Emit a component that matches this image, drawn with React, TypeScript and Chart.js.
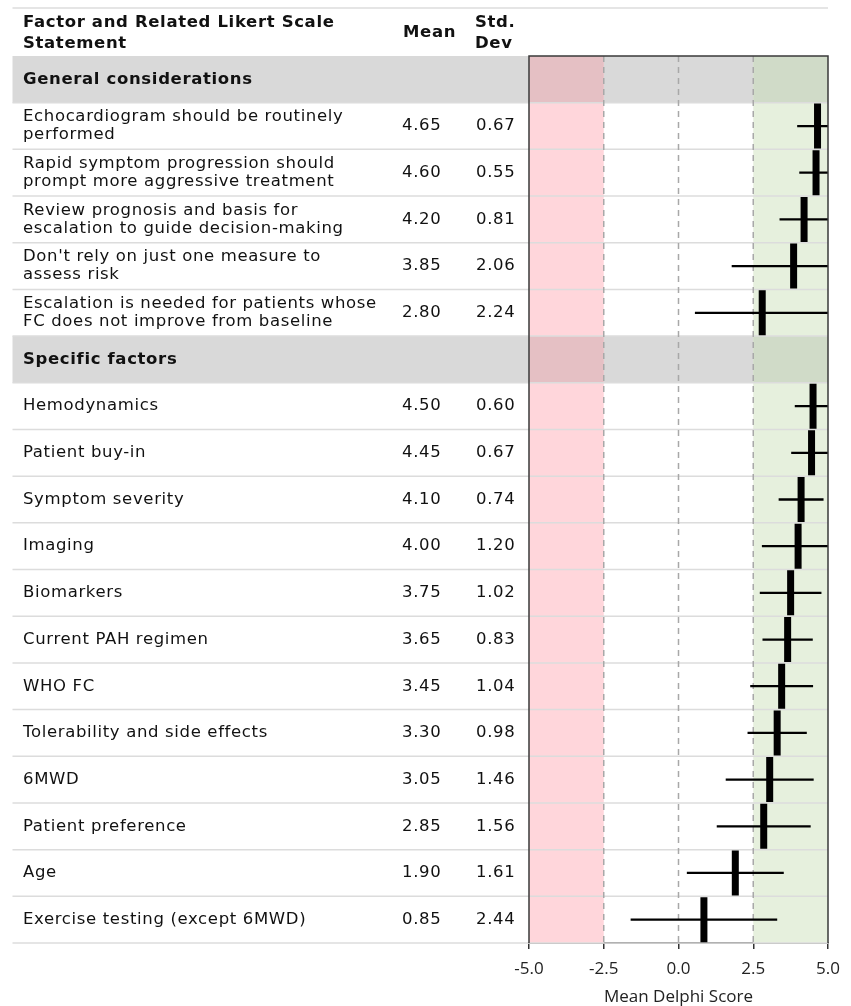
import React, { useEffect, useRef } from 'react';
import { Chart, registerables } from 'chart.js';
Chart.register(...registerables);

const headerStatement = ['Factor and Related Likert Scale', 'Statement'];
const headerMean = 'Mean';
const headerSD = ['Std.', 'Dev'];
const sectionTitles = ['General considerations', 'Specific factors'];

const generalStatements = [
  ['Echocardiogram should be routinely', 'performed'],
  ['Rapid symptom progression should', 'prompt more aggressive treatment'],
  ['Review prognosis and basis for', 'escalation to guide decision-making'],
  ["Don't rely on just one measure to", 'assess risk'],
  ['Escalation is needed for patients whose', 'FC does not improve from baseline'],
];
const generalMeans = [4.65, 4.6, 4.2, 3.85, 2.8];
const generalSDs = [0.67, 0.55, 0.81, 2.06, 2.24];

const specificFactors = [
  'Hemodynamics',
  'Patient buy-in',
  'Symptom severity',
  'Imaging',
  'Biomarkers',
  'Current PAH regimen',
  'WHO FC',
  'Tolerability and side effects',
  '6MWD',
  'Patient preference',
  'Age',
  'Exercise testing (except 6MWD)',
];
const specificMeans = [4.5, 4.45, 4.1, 4.0, 3.75, 3.65, 3.45, 3.3, 3.05, 2.85, 1.9, 0.85];
const specificSDs = [0.6, 0.67, 0.74, 1.2, 1.02, 0.83, 1.04, 0.98, 1.46, 1.56, 1.61, 2.44];

const xTicks = [-5, -2.5, 0, 2.5, 5];
const axisTitle = 'Mean Delphi Score';
const xMin = -5;
const xMax = 5;
const disagreeLimit = -2.5;
const agreeLimit = 2.5;

type Row = { kind: 'section' | 'item'; lines: string[]; mean: number | null; sd: number | null };

const rows: Row[] = [
  { kind: 'section', lines: [sectionTitles[0]], mean: null, sd: null },
  ...generalStatements.map((l, i) => ({ kind: 'item' as const, lines: l, mean: generalMeans[i], sd: generalSDs[i] })),
  { kind: 'section', lines: [sectionTitles[1]], mean: null, sd: null },
  ...specificFactors.map((l, i) => ({ kind: 'item' as const, lines: [l], mean: specificMeans[i], sd: specificSDs[i] })),
];
const rowLabels = rows.map((r) => r.lines.join(' '));

const TEXT_FONT = '"DejaVu Sans", Verdana, sans-serif';
const AXIS_FONT = '"Open Sans", sans-serif';
const TEXT_SIZE = 16.5;
const LETTER_SPACING = '0.65px';

const tablePlugin = {
  id: 'tablePlugin',
  beforeDatasetsDraw(chart: any) {
    const { ctx, chartArea } = chart;
    const x = chart.scales.x;
    const y = chart.scales.y;
    const left = 12.5;
    const right = chartArea.right;
    const h = y.getPixelForValue(1) - y.getPixelForValue(0);
    const xR = x.getPixelForValue(disagreeLimit);
    const xG = x.getPixelForValue(agreeLimit);
    const x0 = x.getPixelForValue(xMin);
    const x1 = x.getPixelForValue(xMax);
    ctx.save();
    ctx.fillStyle = '#ffd6db';
    ctx.fillRect(x0, chartArea.top, xR - x0, chartArea.bottom - chartArea.top);
    ctx.fillStyle = '#e6f0dd';
    ctx.fillRect(xG, chartArea.top, x1 - xG, chartArea.bottom - chartArea.top);
    rows.forEach((r, i) => {
      if (r.kind !== 'section') return;
      const c = y.getPixelForValue(i);
      const t = c - h / 2;
      ctx.fillStyle = '#d9d9d9';
      ctx.fillRect(left, t, x0 - left, h);
      ctx.fillRect(xR, t, xG - xR, h);
      ctx.fillStyle = '#e5c0c4';
      ctx.fillRect(x0, t, xR - x0, h);
      ctx.fillStyle = '#d0dbc8';
      ctx.fillRect(xG, t, x1 - xG, h);
    });
    ctx.strokeStyle = '#dcdcdc';
    ctx.lineWidth = 1.5;
    rows.forEach((r, i) => {
      const b = y.getPixelForValue(i) + h / 2;
      ctx.beginPath();
      ctx.moveTo(left, b);
      ctx.lineTo(right, b);
      ctx.stroke();
    });
    ctx.beginPath();
    ctx.moveTo(left, 8);
    ctx.lineTo(right, 8);
    ctx.stroke();
    ctx.strokeStyle = '#a8a8a8';
    ctx.lineWidth = 1.5;
    ctx.setLineDash([6, 5]);
    xTicks.slice(1, -1).forEach((v) => {
      const px = x.getPixelForValue(v);
      ctx.beginPath();
      ctx.moveTo(px, chartArea.top);
      ctx.lineTo(px, chartArea.bottom);
      ctx.stroke();
    });
    ctx.setLineDash([]);

    ctx.fillStyle = '#111';
    ctx.textBaseline = 'middle';
    ctx.textAlign = 'left';
    (ctx as any).letterSpacing = LETTER_SPACING;
    ctx.font = `bold ${TEXT_SIZE}px ${TEXT_FONT}`;
    ctx.fillText(headerStatement[0], 23, 23);
    ctx.fillText(headerStatement[1], 23, 43.5);
    ctx.fillText(headerMean, 403, 33);
    ctx.fillText(headerSD[0], 475, 23);
    ctx.fillText(headerSD[1], 475, 43.5);
    rows.forEach((r, i) => {
      const c = y.getPixelForValue(i);
      if (r.kind === 'section') {
        ctx.font = `bold ${TEXT_SIZE}px ${TEXT_FONT}`;
        ctx.fillText(r.lines[0], 23, c);
        return;
      }
      ctx.font = `${TEXT_SIZE}px ${TEXT_FONT}`;
      const n = r.lines.length;
      r.lines.forEach((ln, k) => {
        ctx.fillText(ln, 23, c + (k - (n - 1) / 2) * 18);
      });
      ctx.fillText((r.mean as number).toFixed(2), 402, c);
      ctx.fillText((r.sd as number).toFixed(2), 476, c);
    });
    (ctx as any).letterSpacing = '0px';
    ctx.restore();
  },
  afterDatasetsDraw(chart: any) {
    const { ctx, chartArea } = chart;
    ctx.save();
    ctx.strokeStyle = '#3a3a3a';
    ctx.lineWidth = 1.5;
    ctx.beginPath();
    ctx.moveTo(chartArea.left, chartArea.bottom);
    ctx.lineTo(chartArea.left, chartArea.top);
    ctx.lineTo(chartArea.right, chartArea.top);
    ctx.lineTo(chartArea.right, chartArea.bottom);
    ctx.stroke();
    ctx.restore();
  },
};

export default function App() {
  const ref = useRef<HTMLCanvasElement | null>(null);
  useEffect(() => {
    if (!ref.current) return;
    const chart = new Chart(ref.current, {
      type: 'bar',
      data: {
        labels: rowLabels,
        datasets: [
          {
            type: 'line',
            label: 'Mean',
            indexAxis: 'y',
            data: rows.map((r) => (r.kind === 'item' ? r.mean : null)),
            showLine: false,
            pointStyle: 'line',
            pointRotation: 90,
            pointRadius: 22.5,
            pointBorderWidth: 7,
            pointBorderColor: '#000',
            pointBackgroundColor: '#000',
            order: 0,
          } as any,
          {
            type: 'bar',
            label: 'SD',
            indexAxis: 'y',
            data: rows.map((r) =>
              r.kind === 'item' ? [(r.mean as number) - (r.sd as number), (r.mean as number) + (r.sd as number)] : null
            ),
            backgroundColor: '#000',
            barThickness: 1.6,
            order: 1,
          } as any,
        ],
      },
      options: {
        indexAxis: 'y',
        responsive: false,
        animation: false,
        events: [],
        layout: { autoPadding: false, padding: { left: 529, right: 23, top: 56, bottom: 0 } },
        plugins: { legend: { display: false }, tooltip: { enabled: false } },
        scales: {
          x: {
            type: 'linear',
            min: xMin,
            max: xMax,
            afterBuildTicks: (s: any) => {
              s.ticks = xTicks.map((v) => ({ value: v }));
            },
            afterFit: (s: any) => {
              s.height = 63;
              s.paddingLeft = 0;
              s.paddingRight = 0;
            },
            ticks: {
              callback: (v: any) => Number(v).toFixed(1),
              font: { family: AXIS_FONT, size: 17 },
              color: '#222',
              padding: 10,
              maxRotation: 0,
            },
            grid: { drawOnChartArea: false, drawTicks: true, tickLength: 6, color: '#333', lineWidth: 1.5 },
            border: { display: true, color: '#333', width: 1.5 },
            title: {
              display: true,
              text: axisTitle,
              font: { family: AXIS_FONT, size: 17, lineHeight: 1 },
              color: '#222',
              padding: 0,
            },
          },
          y: {
            type: 'category',
            labels: rowLabels,
            offset: true,
            display: false,
          },
        },
      } as any,
      plugins: [tablePlugin],
    });
    return () => chart.destroy();
  }, []);
  return (
    <div style={{ position: 'fixed', left: 0, top: 0, width: 851, height: 1006, background: '#fff' }}>
      <canvas ref={ref} width={851} height={1006} />
    </div>
  );
}
